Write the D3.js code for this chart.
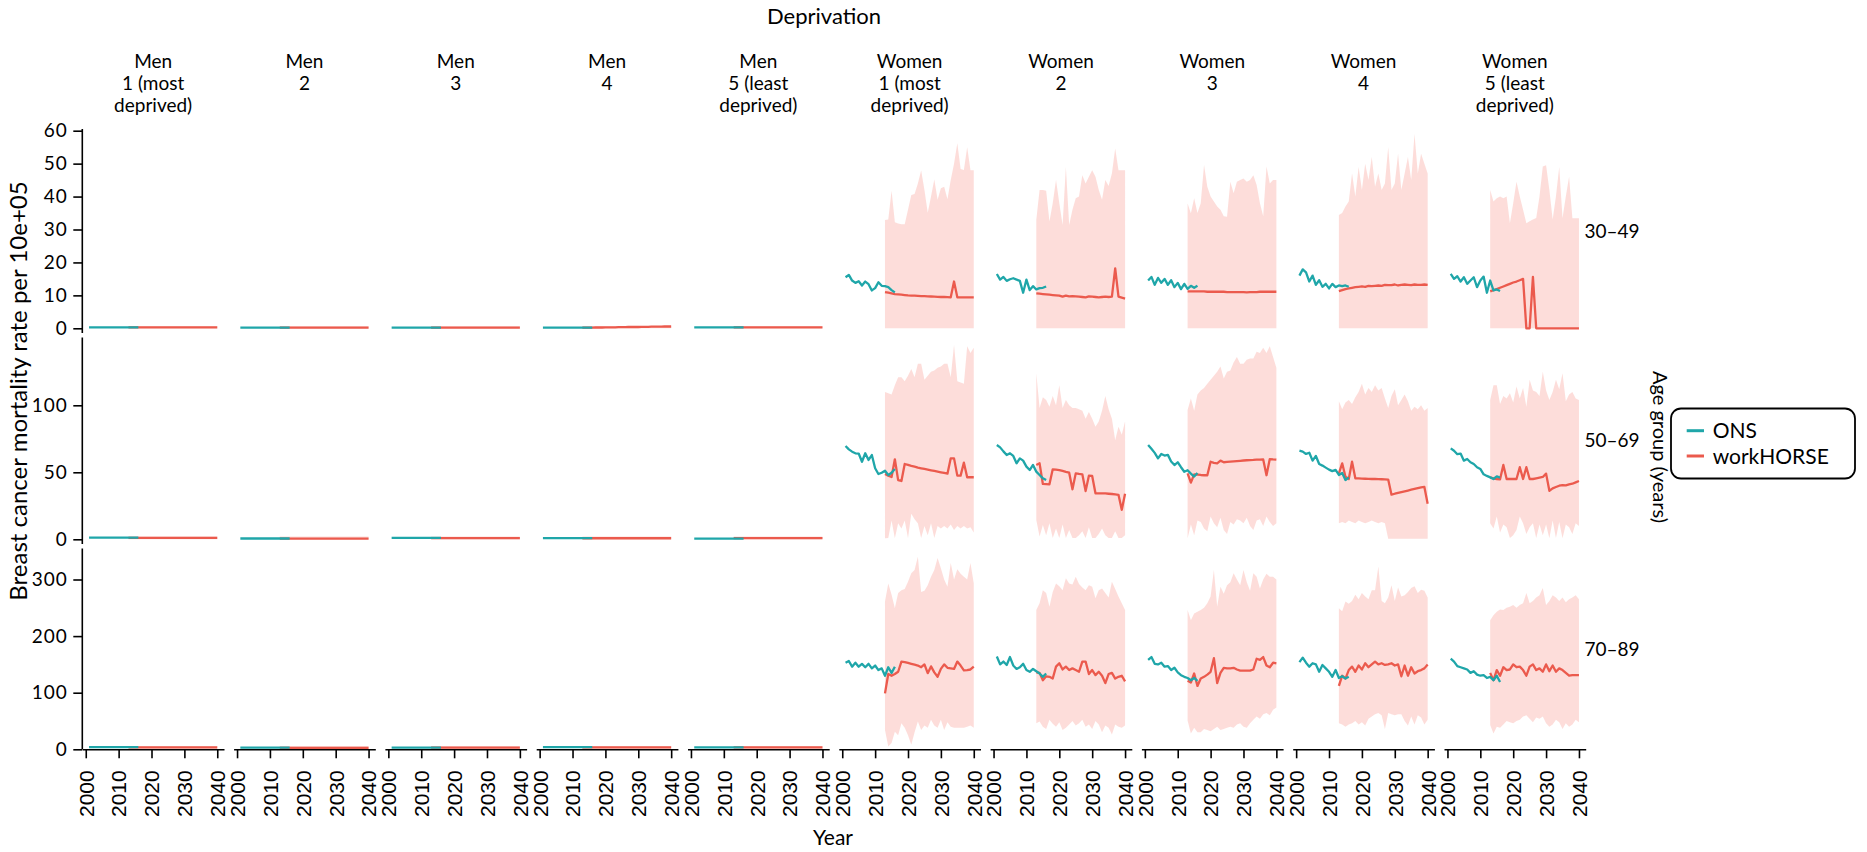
<!DOCTYPE html>
<html>
<head>
<meta charset="utf-8">
<script src="https://cdn.jsdelivr.net/npm/d3@7"></script>
<style>
  body { margin: 0; background: #fff; }
  svg { display: block; }
  text { font-family: Lato, "Noto Sans", sans-serif; fill: #000; }
</style>
</head>
<body>
<div id="chart"></div>
<script>
// ---------- categories and tick labels ----------
const sexes = ["Men", "Women"];
const quintileLabels = [["1 (most", "deprived)"], ["2"], ["3"], ["4"], ["5 (least", "deprived)"]];
const ageGroups = ["30–49", "50–69", "70–89"];
const seriesNames = ["ONS", "workHORSE"];
const xTicks = [2000, 2010, 2020, 2030, 2040];
const yTicks3049 = [0, 10, 20, 30, 40, 50, 60];
const yTicks5069 = [0, 50, 100];
const yTicks7089 = [0, 100, 200, 300];

// ---------- years ----------
const onsYears = [2001,2002,2003,2004,2005,2006,2007,2008,2009,2010,2011,2012,2013,2014,2015,2016];
const whYears = [2013,2014,2015,2016,2017,2018,2019,2020,2021,2022,2023,2024,2025,2026,2027,2028,2029,2030,2031,2032,2033,2034,2035,2036,2037,2038,2039,2040];

// ---------- ages 30–49 (panels: Men 1..5, Women 1..5) ----------
const ons3049 = [
  [0.3,0.3,0.3,0.3,0.3,0.3,0.3,0.3,0.3,0.3,0.3,0.3,0.3,0.3,0.3,0.3],
  [0.2,0.2,0.2,0.2,0.2,0.2,0.2,0.2,0.2,0.2,0.2,0.2,0.2,0.2,0.2,0.2],
  [0.2,0.2,0.2,0.2,0.2,0.2,0.2,0.2,0.2,0.2,0.2,0.2,0.2,0.2,0.2,0.2],
  [0.2,0.2,0.2,0.2,0.2,0.2,0.2,0.2,0.2,0.2,0.2,0.2,0.2,0.2,0.2,0.2],
  [0.3,0.3,0.3,0.3,0.3,0.3,0.3,0.3,0.3,0.3,0.3,0.3,0.3,0.3,0.3,0.3],
  [15.5,16.2,14.5,13.8,14.3,13.0,14.2,13.4,11.5,12.2,14.0,12.9,12.8,12.5,11.6,10.9],
  [16.5,14.8,15.6,14.4,14.9,15.2,14.8,14.4,10.8,14.8,11.6,12.8,11.8,12.2,12.3,12.7],
  [14.5,15.6,13.2,15.3,13.8,15.0,13.2,14.6,12.5,13.8,11.9,13.5,12.0,12.9,12.3,12.9],
  [16.0,17.9,17.0,14.2,16.0,13.2,14.6,12.6,13.5,12.1,13.5,12.5,13.0,12.8,13.0,12.6],
  [16.5,15.0,15.8,14.2,15.5,13.5,14.5,15.5,12.5,14.5,15.7,10.8,14.5,11.5,11.8,11.3]
];
const wh3049 = [
  [0.3,0.3,0.3,0.3,0.3,0.3,0.3,0.3,0.3,0.3,0.3,0.3,0.3,0.3,0.3,0.3,0.3,0.3,0.3,0.3,0.3,0.3,0.3,0.3,0.3,0.3,0.3,0.3],
  [0.2,0.2,0.2,0.2,0.2,0.2,0.2,0.2,0.2,0.2,0.2,0.2,0.2,0.2,0.2,0.2,0.2,0.2,0.2,0.2,0.2,0.2,0.2,0.2,0.2,0.2,0.2,0.2],
  [0.2,0.2,0.2,0.2,0.2,0.2,0.2,0.2,0.2,0.2,0.2,0.2,0.2,0.2,0.2,0.2,0.2,0.2,0.2,0.2,0.2,0.2,0.2,0.2,0.2,0.2,0.2,0.2],
  [0.2,0.2,0.2,0.2,0.25,0.25,0.25,0.3,0.3,0.3,0.3,0.35,0.35,0.35,0.4,0.4,0.4,0.4,0.45,0.45,0.45,0.5,0.5,0.5,0.5,0.55,0.55,0.55],
  [0.3,0.3,0.3,0.3,0.3,0.3,0.3,0.3,0.3,0.3,0.3,0.3,0.3,0.3,0.3,0.3,0.3,0.3,0.3,0.3,0.3,0.3,0.3,0.3,0.3,0.3,0.3,0.3],
  [11.0,10.8,10.6,10.4,10.3,10.2,10.1,10.0,9.95,9.9,9.85,9.8,9.75,9.7,9.65,9.6,9.55,9.5,9.5,9.45,9.4,14.2,9.4,9.4,9.4,9.4,9.4,9.4],
  [10.6,10.5,10.4,10.3,10.2,10.1,10.0,9.9,9.6,9.9,9.7,9.8,9.7,9.6,9.5,9.4,9.7,9.6,9.5,9.4,9.5,9.6,9.5,9.6,18.2,9.6,9.3,9.0],
  [11.2,11.2,11.2,11.2,11.2,11.2,11.1,11.1,11.1,11.1,11.1,11.1,11.0,11.0,11.0,11.0,11.0,11.0,10.9,11.0,11.0,11.0,11.1,11.1,11.1,11.1,11.1,11.1],
  [11.3,11.6,11.9,12.1,12.3,12.5,12.6,12.7,12.6,12.9,12.8,12.9,13.0,12.9,13.2,13.1,13.1,13.3,13.0,13.2,13.3,13.2,13.1,13.3,13.2,13.2,13.3,13.2],
  [11.2,11.6,11.9,12.3,12.7,13.1,13.5,13.9,14.2,14.6,15.0,0,0,15.6,0,0,0,0,0,0,0,0,0,0,0,0,0,0]
];
const menLo3049 = [0,0,0,0,0,0,0,0,0,0,0,0,0,0,0,0,0,0,0,0,0,0,0,0,0,0,0,0];
const menHi3049 = [0.6,0.6,0.6,0.6,0.6,0.6,0.6,0.6,0.6,0.6,0.6,0.6,0.6,0.6,0.6,0.6,0.6,0.6,0.6,0.6,0.6,0.6,0.6,0.6,0.6,0.6,0.6,0.6];
const womenLo3049 = [0,0,0,0,0,0,0,0,0,0,0,0,0,0,0,0,0,0,0,0,0,0,0,0,0,0,0,0];
const whLo3049 = [menLo3049, menLo3049, menLo3049, menLo3049, menLo3049,
  womenLo3049, womenLo3049, womenLo3049, womenLo3049, womenLo3049];
const whHi3049 = [menHi3049, menHi3049, menHi3049, menHi3049, menHi3049,
  [32.9,33.0,41.8,32.2,31.8,31.6,31.6,36.0,40.5,40.8,44.0,47.9,42.0,35.1,40.0,45.2,39.0,42.5,43.0,39.2,45.0,50.0,56.2,48.4,48.1,55.0,48.0,48.0],
  [32.9,42.0,42.0,41.8,32.4,38.0,45.0,38.0,31.4,49.0,31.4,36.0,39.5,40.0,46.5,44.0,46.0,48.0,46.0,42.0,39.0,45.0,43.2,47.0,54.6,48.0,48.0,48.0],
  [37.9,34.9,39.5,35.0,38.0,49.6,43.0,40.0,38.5,37.0,36.0,34.0,33.9,44.5,41.0,44.5,45.0,45.5,44.5,45.0,46.5,43.5,38.0,34.0,49.1,44.0,45.0,45.0],
  [34.4,35.0,37.0,38.5,47.0,40.0,49.0,42.0,50.0,45.0,52.0,43.0,47.0,42.0,44.0,55.0,42.0,44.0,53.0,42.0,47.0,52.0,45.0,59.0,47.0,53.0,50.0,47.0],
  [42.0,38.5,39.5,40.0,39.5,40.0,31.9,38.0,44.5,40.0,36.0,31.9,32.5,33.0,33.5,40.0,49.1,49.5,42.0,33.0,40.0,49.0,33.4,40.0,46.0,33.4,33.4,33.4]
];

// ---------- ages 50–69 ----------
const ons5069 = [
  [1.2,1.2,1.2,1.2,1.2,1.2,1.2,1.2,1.2,1.2,1.2,1.2,1.2,1.2,1.2,1.2],
  [0.6,0.6,0.6,0.6,0.6,0.6,0.6,0.6,0.6,0.6,0.6,0.6,0.6,0.6,0.6,0.6],
  [1.0,1.0,1.0,1.0,1.0,1.0,1.0,1.0,1.0,1.0,1.0,1.0,1.0,1.0,1.0,1.0],
  [0.9,0.9,0.9,0.9,0.9,0.9,0.9,0.9,0.9,0.9,0.9,0.9,0.9,0.9,0.9,0.9],
  [0.5,0.5,0.5,0.5,0.5,0.5,0.5,0.5,0.5,0.5,0.5,0.5,0.5,0.5,0.5,0.5],
  [69.6,67.1,65.4,64.2,64.0,57.9,64.2,59.2,62.9,53.0,48.7,49.7,51.2,48.0,49.7,52.5],
  [70.4,68.6,65.6,62.9,64.2,62.2,56.7,60.4,58.7,54.2,51.7,55.5,50.5,48.0,45.5,44.2],
  [70.3,67.5,64.5,60.4,63.7,62.5,63.0,58.0,55.4,57.5,53.8,50.4,51.5,49.0,46.8,49.5],
  [66.1,65.4,63.7,64.6,58.7,62.2,56.2,55.0,53.5,52.0,50.9,51.8,48.0,49.5,44.2,46.2],
  [67.9,66.1,63.5,64.0,58.7,59.9,57.5,56.2,53.8,52.5,48.5,47.3,46.2,45.0,47.0,46.0]
];
const wh5069 = [
  [1.1,1.1,1.1,1.1,1.1,1.1,1.1,1.1,1.1,1.1,1.1,1.1,1.1,1.1,1.1,1.1,1.1,1.1,1.1,1.1,1.1,1.1,1.1,1.1,1.1,1.1,1.1,1.1],
  [0.5,0.5,0.5,0.5,0.5,0.5,0.5,0.5,0.5,0.5,0.5,0.5,0.5,0.5,0.5,0.5,0.5,0.5,0.5,0.5,0.5,0.5,0.5,0.5,0.5,0.5,0.5,0.5],
  [0.9,0.9,0.9,0.9,0.9,0.9,0.9,0.9,0.9,0.9,0.9,0.9,0.9,0.9,0.9,0.9,0.9,0.9,0.9,0.9,0.9,0.9,0.9,0.9,0.9,0.9,0.9,0.9],
  [0.8,0.8,0.8,0.8,0.8,0.8,0.8,0.8,0.8,0.8,0.8,0.8,0.8,0.8,0.8,0.8,0.8,0.8,0.8,0.8,0.8,0.8,0.8,0.8,0.8,0.8,0.8,0.8],
  [0.9,0.9,0.9,0.9,0.9,0.9,0.9,0.9,0.9,0.9,0.9,0.9,0.9,0.9,0.9,0.9,0.9,0.9,0.9,0.9,0.9,0.9,0.9,0.9,0.9,0.9,0.9,0.9],
  [48.7,47.5,46.5,59.7,44.2,43.5,56.2,55.5,54.8,54.2,53.5,53.0,52.5,52.0,51.5,51.0,50.5,50.0,49.5,49.0,60.4,60.4,47.5,47.5,57.2,46.3,46.3,46.3],
  [55.5,56.7,41.3,41.2,41.0,52.2,52.0,51.7,51.0,50.3,49.7,37.3,49.2,48.8,48.5,36.0,47.5,47.3,34.3,34.3,34.2,34.2,34.0,33.8,33.5,33.2,22.0,34.0],
  [49.2,42.3,48.5,48.3,48.0,47.8,47.8,57.9,57.0,56.7,58.7,57.5,57.8,58.0,58.2,58.4,58.6,58.8,59.0,59.1,59.2,59.4,59.5,59.6,47.8,59.9,59.6,59.4],
  [49.2,56.7,46.7,45.0,57.9,45.5,45.4,45.3,45.2,45.1,45.0,45.0,44.9,44.8,44.7,44.6,33.3,34.0,34.6,35.2,35.8,36.4,37.0,37.6,38.2,38.7,39.1,26.6],
  [46.2,45.5,45.0,44.8,55.5,45.0,45.0,45.0,45.0,53.8,45.0,53.8,45.0,45.0,45.5,46.0,46.5,49.0,36.2,38.0,39.0,40.0,40.5,40.2,41.0,41.5,42.5,43.5]
];
const menLo5069 = [0,0,0,0,0,0,0,0,0,0,0,0,0,0,0,0,0,0,0,0,0,0,0,0,0,0,0,0];
const menHi5069 = [2,2,2,2,2,2,2,2,2,2,2,2,2,2,2,2,2,2,2,2,2,2,2,2,2,2,2,2];
const whLo5069 = [menLo5069, menLo5069, menLo5069, menLo5069, menLo5069,
  [0.7,1,14,0.7,12,8,14,1,19,15,12,1,10,3,12,1,10,8,10,8,11,7,10,8,10,8,9,5],
  [14.4,2,10.6,3,12,1,8,1,11,1,7,1,1,3,6,1,9,1,1,4,8,3,1,1,6,1,1,3],
  [0.7,11,3,14,13,8,6,17,12,9,16,7,4,13,11,15,14,12,16,10,7,14,15,10,17,13,10,12],
  [12,13,12,14,13,12,14,13,12,13,14,13,12,13,12,0.5,0.5,0.5,0.5,0.5,0.5,0.5,0.5,0.5,0.5,0.5,0.5,0.5],
  [12,8,17,5,11,9,1,3,7,17,12,4,9,12,1,11,3,11,0.7,14,1,13,0.7,11,9,4,12,10]
];
const whHi5069 = [menHi5069, menHi5069, menHi5069, menHi5069, menHi5069,
  [110,109,108,115,121,121,118,122,127,121,131,131,119,122,125,126,128,129,131,131,121,145,118,117,116,144,139,143],
  [124,98,106,104,99,107,100,115,98,104,100,98,98,97,96,90,95,90,84,88,96,107,97,90,74,84,78,88],
  [96.5,105,96,108,111,113,116,119,122,125,129,120,125,126,132,136,131,131,134,135,135,140,139,143,139,144,136,128],
  [103,97,102,104,101,106,110,116,108,113,110,115,111,113,105,98,107,112,100,104,108,103,96,99,97,100,96,98],
  [104,115,115,101,107,105,109,102,114,105,113,99,119,111,110,107,125,111,104,110,119,112,124,103,108,110,105,104]
];

// ---------- ages 70–89 ----------
const ons7089 = [
  [4,4,4,4,4,4,4,4,4,4,4,4,4,4,4,4],
  [3,3,3,3,3,3,3,3,3,3,3,3,3,3,3,3],
  [3,3,3,3,3,3,3,3,3,3,3,3,3,3,3,3],
  [4,4,4,4,4,4,4,4,4,4,4,4,4,4,4,4],
  [3.5,3.5,3.5,3.5,3.5,3.5,3.5,3.5,3.5,3.5,3.5,3.5,3.5,3.5,3.5,3.5],
  [153,156,146,153,146,151,145,151,143,148,140,143,130,145,135,146],
  [164,150,155,149,163,148,142,145,151,140,137,142,138,134,128,134],
  [158,163,151,150,153,146,147,140,144,136,131,128,126,122,126,121],
  [154,162,153,146,152,150,137,149,143,137,128,140,126,129,125,128],
  [160,155,147,145,143,141,135,138,132,130,131,126,128,122,130,119]
];
const wh7089 = [
  [3.5,3.5,3.5,3.5,3.5,3.5,3.5,3.5,3.5,3.5,3.5,3.5,3.5,3.5,3.5,3.5,3.5,3.5,3.5,3.5,3.5,3.5,3.5,3.5,3.5,3.5,3.5,3.5],
  [2.5,2.5,2.5,2.5,2.5,2.5,2.5,2.5,2.5,2.5,2.5,2.5,2.5,2.5,2.5,2.5,2.5,2.5,2.5,2.5,2.5,2.5,2.5,2.5,2.5,2.5,2.5,2.5],
  [3,3,3,3,3,3,3,3,3,3,3,3,3,3,3,3,3,3,3,3,3,3,3,3,3,3,3,3],
  [3.5,3.5,3.5,3.5,3.5,3.5,3.5,3.5,3.5,3.5,3.5,3.5,3.5,3.5,3.5,3.5,3.5,3.5,3.5,3.5,3.5,3.5,3.5,3.5,3.5,3.5,3.5,3.5],
  [3.5,3.5,3.5,3.5,3.5,3.5,3.5,3.5,3.5,3.5,3.5,3.5,3.5,3.5,3.5,3.5,3.5,3.5,3.5,3.5,3.5,3.5,3.5,3.5,3.5,3.5,3.5,3.5],
  [98.9,133,130,133,137,155,154,152.5,151,149.5,148,145,150,134.5,146.5,136,128.2,142,150,144,143,142,155,148,139.5,140,141,146],
  [136,135,122,129,128,125,146,152,141,146,140,143,140,137,155,155,133,140,131,137,130,117,133,135,125,128,130,120],
  [121,118,134,112,125,128,132,137,161,117,135,144,143,143,144,141,139,139,139,139,141,160,158,163,148,145,153,152],
  [112,130,125,140,146,137,148,141,152,145,150,155,150,152,149,150,152,148,150,129,148,130,145,134,138,140,143,150],
  [135,122,140,130,145,140,141,150,145,146,140,130,146,150,140,143,137,150,138,148,137,143,140,135,130,131,131,131]
];
const menLo7089 = [1,1,1,1,1,1,1,1,1,1,1,1,1,1,1,1,1,1,1,1,1,1,1,1,1,1,1,1];
const menHi7089 = [6,6,6,6,6,6,6,6,6,6,6,6,6,6,6,6,6,6,6,6,6,6,6,6,6,6,6,6];
const whLo7089 = [menLo7089, menLo7089, menLo7089, menLo7089, menLo7089,
  [34,5,11,31,25,46,38,25,8,30,49,34,42,38,52,42,38,52,34,48,40,38,38,38,38,40,42,38],
  [46,49,40,36,52,45,40,48,34,38,44,50,42,46,52,40,44,36,50,44,30,42,38,26,44,40,38,42],
  [51,28,38,30,30,36,34,32,36,40,34,36,38,40,38,44,46,40,38,46,52,58,54,62,64,60,70,74],
  [46,44,40,44,46,50,44,48,42,54,58,62,64,60,36,64,62,60,62,62,50,42,58,44,60,56,44,52],
  [43,28,40,38,44,50,48,46,50,52,58,60,54,48,56,54,58,46,40,44,52,48,36,46,40,44,52,48]
];
const whHi7089 = [menHi7089, menHi7089, menHi7089, menHi7089, menHi7089,
  [261,293,273,249,276,281,283,296,311,317,340,278,280,290,305,317,338,320,300,287,329,300,318,310,305,300,329,293],
  [246,258,281,276,252,278,293,288,281,302,293,291,305,292,286,281,290,287,267,281,284,276,268,296,283,270,258,246],
  [246,228,240,243,246,250,258,270,317,252,287,275,290,295,311,300,290,317,295,280,311,305,284,300,310,305,305,300],
  [249,244,261,257,262,273,265,276,270,265,281,281,323,262,258,268,290,262,286,270,272,278,285,288,276,282,280,268],
  [228,237,243,247,246,250,252,255,250,255,258,276,258,262,268,272,285,255,262,272,268,262,268,260,265,268,272,265]
];

// ---------- layout ----------
const W = 1867, H = 852;
const colX0 = 82.3, colStep = 151.3, colW = 141.7;
const xDomain = [1998.95, 2042.05];
const tealCol = "#1FA6A9", redCol = "#EB5A4D", bandCol = "#F8766D";

const rows = [
  { label: ageGroups[0], ticks: yTicks3049, top: 129, bottom: 333, zeroY: 328.3, refY: 130.7, refV: 60,
    ons: ons3049, wh: wh3049, lo: whLo3049, hi: whHi3049 },
  { label: ageGroups[1], ticks: yTicks5069, top: 337.5, bottom: 544, zeroY: 539.3, refY: 405.3, refV: 100,
    ons: ons5069, wh: wh5069, lo: whLo5069, hi: whHi5069 },
  { label: ageGroups[2], ticks: yTicks7089, top: 548.5, bottom: 749.3, zeroY: 749.3, refY: 692.7, refV: 100,
    ons: ons7089, wh: wh7089, lo: whLo7089, hi: whHi7089 }
];

const panels = [];
sexes.forEach(s => quintileLabels.forEach(q => panels.push({ sex: s, q })));

const svg = d3.select("#chart").append("svg")
  .attr("width", W).attr("height", H)
  .attr("viewBox", `0 0 ${W} ${H}`);
svg.append("rect").attr("width", W).attr("height", H).attr("fill", "#fff");

// top facet title
svg.append("text").attr("x", 824).attr("y", 24).attr("text-anchor", "middle")
  .style("font-size", "22px").text("Deprivation");

// column strips
panels.forEach((p, c) => {
  const cx = colX0 + c * colStep + colW / 2;
  const lines = [p.sex, ...p.q];
  const t = svg.append("text").attr("text-anchor", "middle").style("font-size", "19px");
  lines.forEach((ln, i) => {
    t.append("tspan").attr("x", cx).attr("y", 68.3 + i * 21.7).text(ln);
  });
});

rows.forEach((row, r) => {
  const y = d3.scaleLinear().domain([0, row.refV]).range([row.zeroY, row.refY]);

  panels.forEach((p, c) => {
    const left = colX0 + c * colStep;
    const x = d3.scaleLinear().domain(xDomain).range([left, left + colW]);
    const g = svg.append("g");

    const band = whYears.map((yr, i) => ({ yr, lo: row.lo[c][i], hi: row.hi[c][i] }));
    g.append("path").datum(band)
      .attr("fill", bandCol).attr("fill-opacity", 0.25)
      .attr("d", d3.area().x(d => x(d.yr)).y0(d => y(d.lo)).y1(d => y(d.hi)));

    const whPts = whYears.map((yr, i) => [yr, row.wh[c][i]]);
    g.append("path").datum(whPts)
      .attr("fill", "none").attr("stroke", redCol).attr("stroke-width", 2.3)
      .attr("stroke-linejoin", "round")
      .attr("d", d3.line().x(d => x(d[0])).y(d => y(d[1])));

    const onsPts = onsYears.map((yr, i) => [yr, row.ons[c][i]]);
    g.append("path").datum(onsPts)
      .attr("fill", "none").attr("stroke", tealCol).attr("stroke-width", 2.3)
      .attr("stroke-linejoin", "round")
      .attr("d", d3.line().x(d => x(d[0])).y(d => y(d[1])));

    // bottom axis on the last row
    if (r === rows.length - 1) {
      const gx = svg.append("g").attr("transform", `translate(0,${row.bottom})`)
        .call(d3.axisBottom(x).tickValues(xTicks).tickSize(9).tickSizeOuter(0).tickFormat(d3.format("d")));
      gx.select(".domain").attr("stroke", "#000").attr("stroke-width", 1.6);
      gx.selectAll(".tick line").attr("stroke", "#000").attr("stroke-width", 1.6);
      gx.selectAll(".tick text")
        .attr("transform", "rotate(-90)").attr("x", -21).attr("y", 0).attr("dy", "0.35em")
        .attr("text-anchor", "end")
        .style("font-family", "'Liberation Sans', Arial, sans-serif").style("font-size", "21px").style("fill", "#000");
    }
  });

  // left axis
  const gy = svg.append("g").attr("transform", `translate(${colX0},0)`)
    .call(d3.axisLeft(y).tickValues(row.ticks).tickSize(9).tickSizeOuter(0));
  gy.select(".domain").remove();
  gy.append("line").attr("x1", 0).attr("x2", 0).attr("y1", row.top).attr("y2", row.bottom)
    .attr("stroke", "#000").attr("stroke-width", 1.6);
  gy.selectAll(".tick line").attr("stroke", "#000").attr("stroke-width", 1.6);
  gy.selectAll(".tick text").attr("x", -14.5)
    .style("font-family", "Lato, sans-serif").style("font-size", "19px")
    .style("letter-spacing", "1px").style("fill", "#000");

  // row strip
  svg.append("text").attr("x", 1612).attr("y", (row.top + row.bottom) / 2)
    .attr("dy", "0.35em").attr("text-anchor", "middle").style("font-size", "19px").text(row.label);
});

// axis titles
svg.append("text").attr("x", 833).attr("y", 845).attr("text-anchor", "middle")
  .style("font-size", "21px").text("Year");
svg.append("text").attr("transform", "translate(27,391) rotate(-90)").attr("text-anchor", "middle")
  .style("font-size", "24px").text("Breast cancer mortality rate per 10e+05");
svg.append("text").attr("transform", "translate(1659,447) rotate(90)").attr("text-anchor", "middle")
  .attr("dy", "0.3em").style("font-size", "20px").text("Age group (years)");

// legend
const lg = svg.append("g");
lg.append("rect").attr("x", 1671).attr("y", 408.5).attr("width", 184).attr("height", 70)
  .attr("rx", 10).attr("ry", 10).attr("fill", "#fff").attr("stroke", "#000").attr("stroke-width", 1.8);
[{ name: seriesNames[0], col: tealCol, yy: 430.7 }, { name: seriesNames[1], col: redCol, yy: 456 }]
  .forEach(it => {
    lg.append("line").attr("x1", 1686.7).attr("x2", 1704).attr("y1", it.yy).attr("y2", it.yy)
      .attr("stroke", it.col).attr("stroke-width", 3);
    lg.append("text").attr("x", 1712.7).attr("y", it.yy).attr("dy", "0.36em")
      .style("font-size", "21px").text(it.name);
  });
</script>
</body>
</html>
